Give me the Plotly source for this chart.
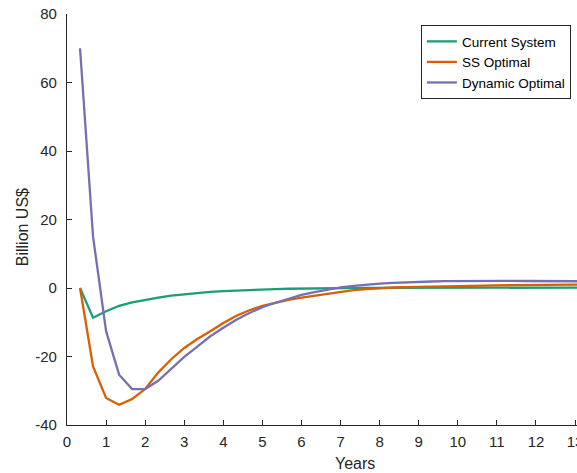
import plotly.graph_objects as go

years = [k / 3 for k in range(1, 41)]

current_system = [0, -8.7, -6.8, -5.2, -4.2, -3.4, -2.8, -2.2, -1.8, -1.45,
                  -1.15, -0.9, -0.7, -0.55, -0.4, -0.3, -0.22, -0.15, -0.1, -0.05,
                  0.0, 0.02, 0.04, 0.05, 0.06, 0.07, 0.08, 0.09, 0.1, 0.1,
                  0.1, 0.1, 0.1, 0.1, 0.1, 0.1, 0.1, 0.1, 0.1, 0.1]

ss_optimal = [0, -22.9, -32.1, -34.1, -32.4, -29.5, -24.7, -20.8, -17.5, -14.9,
              -12.6, -10.2, -8.1, -6.5, -5.2, -4.3, -3.5, -2.8, -2.2, -1.6,
              -1.0, -0.6, -0.3, 0.0, 0.15, 0.28, 0.38, 0.47, 0.55, 0.62,
              0.68, 0.73, 0.78, 0.82, 0.86, 0.89, 0.92, 0.95, 0.97, 1.0]

dynamic_optimal = [70, 15, -12.6, -25.3, -29.5, -29.5, -27.1, -23.7, -20.1, -17.1,
                   -14.1, -11.6, -9.3, -7.3, -5.6, -4.3, -3.2, -2.0, -1.2, -0.5,
                   0.2, 0.6, 1.0, 1.3, 1.5, 1.7, 1.8, 1.9, 2.0, 2.05,
                   2.1, 2.1, 2.1, 2.1, 2.05, 2.05, 2.0, 2.0, 1.95, 1.95]

series_names = ["Current System", "SS Optimal", "Dynamic Optimal"]
colors = ["#1b9e77", "#d95f02", "#7570b3"]

x_ticks = list(range(0, 14))
y_ticks = [-40, -20, 0, 20, 40, 60, 80]

FONT = "Liberation Sans, Arial, Helvetica, sans-serif"
AX = "#262626"

fig = go.Figure()
for name, vals, c in zip(series_names, [current_system, ss_optimal, dynamic_optimal], colors):
    fig.add_trace(go.Scatter(x=years, y=vals, mode="lines", name=name,
                             line=dict(color=c, width=2.3)))

axis_common = dict(showline=True, linecolor=AX, linewidth=1.2, ticks="inside",
                   ticklen=5, tickcolor=AX, tickwidth=1, showgrid=False,
                   zeroline=False, mirror=False, ticklabeloverflow="allow",
                   automargin=False,
                   tickfont=dict(family=FONT, size=15, color=AX))

fig.update_layout(
    width=577, height=473,
    margin=dict(l=67, r=0, t=14, b=48, pad=0),
    plot_bgcolor="white", paper_bgcolor="white",
    font=dict(family=FONT, color=AX),
    xaxis=dict(range=[0, 13.05], tickvals=x_ticks,
               ticktext=[str(v) for v in x_ticks], ticklabelstandoff=3, **axis_common),
    yaxis=dict(range=[-40, 80], tickvals=y_ticks,
               ticktext=[str(v) for v in y_ticks], ticklabelstandoff=6, **axis_common),
    showlegend=True,
    legend=dict(x=0.988, y=0.973, xanchor="right", yanchor="top",
                bgcolor="white", bordercolor=AX, borderwidth=1,
                font=dict(family=FONT, size=13.5, color="black"),
                tracegroupgap=0),
    annotations=[
        dict(text="Years", xref="paper", yref="paper", x=(355 - 67) / 510, y=-0.093,
             xanchor="center", yanchor="middle", showarrow=False,
             font=dict(family=FONT, size=16, color=AX)),
        dict(text="Billion US$", xref="paper", yref="paper", x=(22 - 67) / 510,
             y=(424.5 - 227) / 410.5, xanchor="center", yanchor="middle",
             textangle=-90, showarrow=False,
             font=dict(family=FONT, size=16, color=AX)),
    ],
)

fig.write_html("out.html")
